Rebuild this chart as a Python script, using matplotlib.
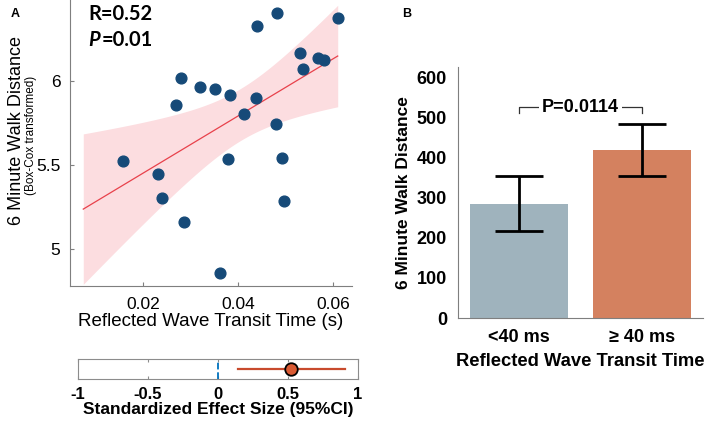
import numpy as np
import matplotlib
matplotlib.use('Agg')
import matplotlib.pyplot as plt

plt.rcParams['font.family'] = ['Liberation Sans', 'DejaVu Sans']

# panel A: transit time (s) vs box-cox 6MWD
transit_time = [0.0157, 0.0232, 0.0239, 0.0269, 0.0280, 0.0287, 0.0319, 0.0352,
                0.0361, 0.0378, 0.0383, 0.0413, 0.0437, 0.0439, 0.0479, 0.0483,
                0.0493, 0.0497, 0.0531, 0.0536, 0.0568, 0.0582, 0.0610]
walk_boxcox = [5.522, 5.448, 5.304, 5.853, 6.014, 5.159, 5.962, 5.950,
               4.859, 5.537, 5.913, 5.800, 5.899, 6.327, 5.744, 6.405,
               5.542, 5.288, 6.165, 6.070, 6.135, 6.123, 6.373]
fit_range = [0.0074, 0.0610]

# effect size and CI
effect = 0.52
effect_ci = [0.14, 0.91]

# panel B
groups = ['<40 ms', '≥ 40 ms']
walk_mean = [285, 419]
walk_err = [69, 65]
p_text = 'P=0.0114'

x = np.array(transit_time)
y = np.array(walk_boxcox)
n = len(x)
slope, icpt = np.polyfit(x, y, 1)
xf = np.linspace(fit_range[0], fit_range[1], 100)
yf = slope * xf + icpt
resid = y - (slope * x + icpt)
s = np.sqrt(np.sum(resid**2) / (n - 2))
se = s * np.sqrt(1/n + (xf - x.mean())**2 / np.sum((x - x.mean())**2))
t975 = 2.08

fig = plt.figure(figsize=(7.09, 4.22), dpi=100)

axA = fig.add_axes([0.0987, 0.3223, 0.3977, 0.6777])
axA.fill_between(xf, yf - t975*se, yf + t975*se, color='#fcdde0', lw=0)
axA.plot(xf, yf, color='#e8414b', lw=0.9)
axA.scatter(x, y, s=60, color='#164a78', zorder=3)
axA.set_xlim(0.0046, 0.064)
axA.set_ylim(4.78, 6.48)
axA.set_xticks([0.02, 0.04, 0.06])
axA.set_xticklabels(['0.02', '0.04', '0.06'])
axA.set_yticks([5, 5.5, 6])
axA.set_yticklabels(['5', '5.5', '6'])
for sp in ['top', 'right']:
    axA.spines[sp].set_visible(False)
for sp in ['left', 'bottom']:
    axA.spines[sp].set_color('#7f7f7f')
axA.tick_params(direction='in', length=3, color='#7f7f7f', labelsize=12.5, pad=7)
axA.tick_params(axis='x', pad=8)
axA.set_xlabel('Reflected Wave Transit Time (s)', fontsize=13.5, labelpad=1)
fig.text(0.023, 0.69, '6 Minute Walk Distance', rotation=90, fontsize=13,
         ha='center', va='center')
fig.text(0.044, 0.68, '(Box-Cox transformed)', rotation=90, fontsize=8.5,
         ha='center', va='center')
fig.text(0.124, 0.966, 'R=0.52', fontsize=14.5, fontweight='bold', family='Lato',
         ha='left', va='center')
fig.text(0.124, 0.905, 'P', fontsize=14.5, fontweight='bold', style='italic',
         family='Lato', ha='left', va='center')
fig.text(0.1435, 0.905, '=0.01', fontsize=14.5, fontweight='bold',
         family='Lato', ha='left', va='center')
fig.text(0.022, 0.968, 'A', fontsize=9, fontweight='bold', ha='center', va='center')

axE = fig.add_axes([0.110, 0.1019, 0.395, 0.0474])
axE.axvline(0, color='#0072bd', ls='--', lw=1.3)
axE.plot(effect_ci, [0, 0], color='#c84a2c', lw=1.6)
axE.plot([effect], [0], 'o', ms=9, mfc='#d95a33', mec='black', mew=1.3)
axE.set_xlim(-1, 1)
axE.set_ylim(-1, 1)
axE.set_yticks([])
axE.set_xticks([-1, -0.5, 0, 0.5, 1])
axE.set_xticklabels(['-1', '-0.5', '0', '0.5', '1'], fontweight='bold')
for sp in axE.spines.values():
    sp.set_color('#8c8c8c')
axE.tick_params(direction='in', length=2, color='#8c8c8c', top=True,
                labelsize=12, pad=6)
axE.set_xlabel('Standardized Effect Size (95%CI)', fontsize=12.5, fontweight='bold',
               labelpad=0)

axB = fig.add_axes([0.646, 0.2464, 0.3456, 0.5948])
pos = [1, 2]
axB.bar(pos, walk_mean, width=0.8, color=['#9fb3bd', '#d4815f'])
axB.errorbar(pos, walk_mean, yerr=walk_err, fmt='none', ecolor='black',
             elinewidth=2, capsize=17, capthick=2)
axB.set_xlim(0.5, 2.5)
axB.set_ylim(0, 625)
axB.set_yticks([0, 100, 200, 300, 400, 500, 600])
axB.set_xticks(pos)
axB.set_xticklabels(groups)
for lab in axB.get_xticklabels() + axB.get_yticklabels():
    lab.set_fontweight('bold')
for sp in ['top', 'right']:
    axB.spines[sp].set_visible(False)
for sp in ['left', 'bottom']:
    axB.spines[sp].set_color('#7f7f7f')
axB.tick_params(length=0, labelsize=13, pad=8)
axB.set_ylabel('6 Minute Walk Distance', fontsize=12.5, fontweight='bold', labelpad=4)
axB.set_xlabel('Reflected Wave Transit Time', fontsize=13.2, fontweight='bold',
               labelpad=5)
axB.plot([1, 1, 2, 2], [510, 525, 525, 510], color='#333333', lw=0.9)
axB.text(1.5, 525, p_text, ha='center', va='center', fontsize=13,
         fontweight='bold', bbox=dict(fc='white', ec='none', pad=2))
fig.text(0.574, 0.967, 'B', fontsize=9, fontweight='bold', ha='center', va='center')

fig.savefig('out.png', dpi=100)
